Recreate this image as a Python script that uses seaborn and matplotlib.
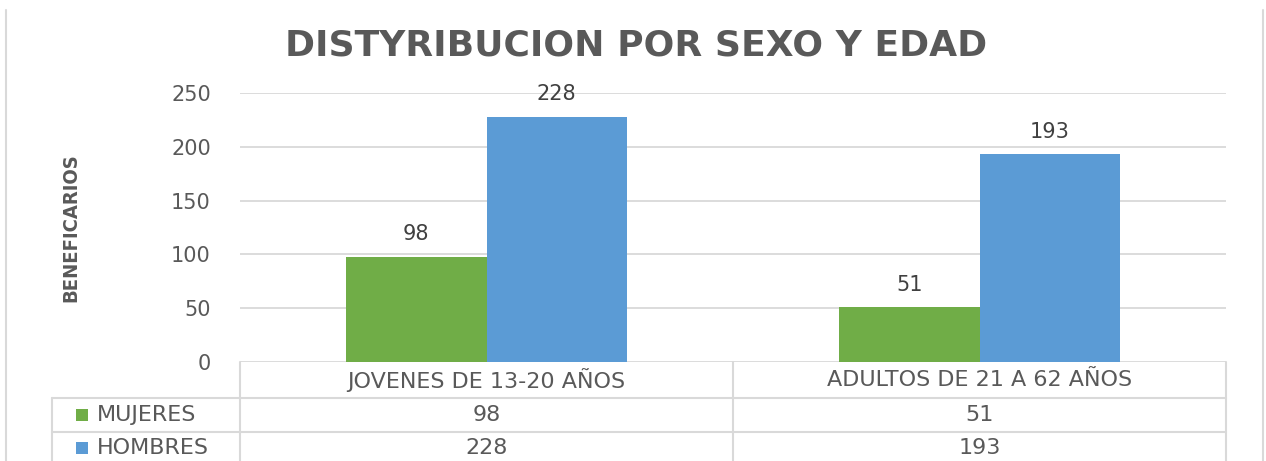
import matplotlib.pyplot as plt
import matplotlib.transforms as mtransforms
from matplotlib.lines import Line2D
from matplotlib.patches import Rectangle
import pandas as pd
import seaborn as sns

# datos
categorias = ['JOVENES DE 13-20 AÑOS', 'ADULTOS DE 21 A 62 AÑOS']
series = ['MUJERES', 'HOMBRES']
mujeres = [98, 51]
hombres = [228, 193]
colores = ['#70ad47', '#5b9bd5']
titulo = 'DISTYRIBUCION POR SEXO Y EDAD'
etiqueta_y = 'BENEFICARIOS'

df = pd.DataFrame({
    'grupo': categorias * 2,
    'sexo': [series[0]] * 2 + [series[1]] * 2,
    'valor': mujeres + hombres,
})

sns.set_theme(style='white')
plt.rcParams['font.family'] = ['DejaVu Sans']

GRIS = '#595959'
LINEA = '#d9d9d9'
W, H = 1266, 461
fig = plt.figure(figsize=(W / 100, H / 100), dpi=100)
ax = fig.add_axes([240 / W, 1 - 362 / H, (1226 - 240) / W, (362 - 93) / H])

sns.barplot(data=df, x='grupo', y='valor', hue='sexo', hue_order=series,
            palette=colores, width=0.57, gap=0, saturation=1, linewidth=0,
            legend=False, ax=ax)

ax.set_xlim(-0.5, 1.5)
ax.set_ylim(0, 250)
ax.set_yticks(range(0, 251, 50))
ax.yaxis.grid(True, color=LINEA, lw=1.3)
ax.set_axisbelow(True)
for s in ax.spines.values():
    s.set_visible(False)
ax.set_xticks([])
ax.set_xlabel('')
ax.set_ylabel('')
ax.tick_params(axis='y', length=0, pad=21, labelsize=15, labelcolor=GRIS)

for c in ax.containers:
    ax.bar_label(c, padding=9, fontsize=15, color='#404040')

# titulo y eje
fig.text(636 / W, 1 - 45 / H, titulo, ha='center', va='center',
         fontsize=26, fontweight='bold', color=GRIS)
fig.text(71 / W, 1 - 228 / H, etiqueta_y, rotation=90, ha='center', va='center',
         fontsize=14.5, fontweight='bold', fontstretch='condensed', color=GRIS,
         family=['Liberation Sans Narrow', 'DejaVu Sans'])

# tabla de datos
trans = mtransforms.blended_transform_factory(ax.transData, fig.transFigure)
fy = lambda p: 1 - p / H
for xv in [-0.5, 0.5, 1.5]:
    ax.add_line(Line2D([xv, xv], [fy(362), fy(470)], transform=trans,
                       color=LINEA, lw=1.5, clip_on=False))
for yp in [398, 432]:
    fig.add_artist(Line2D([52 / W, 1226 / W], [fy(yp), fy(yp)],
                          transform=fig.transFigure, color=LINEA, lw=1.5))
fig.add_artist(Line2D([52 / W, 52 / W], [fy(398), fy(470)],
                      transform=fig.transFigure, color=LINEA, lw=1.5))

for i, cat in enumerate(categorias):
    ax.text(i, fy(380), cat, transform=trans, ha='center', va='center',
            fontsize=16, color=GRIS)
filas = [mujeres, hombres]
for j, (nombre, vals) in enumerate(zip(series, filas)):
    yc = [415, 448][j]
    for i, v in enumerate(vals):
        ax.text(i, fy(yc), str(v), transform=trans, ha='center', va='center',
                fontsize=16, color=GRIS)
    fig.add_artist(Rectangle((76 / W, fy(yc + 6)), 12 / W, 12 / H,
                             transform=fig.transFigure, color=colores[j], lw=0))
    fig.text(97 / W, fy(yc), nombre, ha='left', va='center', fontsize=16, color=GRIS)

# borde del grafico
for xp in [6, 1263]:
    fig.add_artist(Line2D([xp / W, xp / W], [fy(10), 0], transform=fig.transFigure,
                          color=LINEA, lw=1.5))

fig.savefig('out.png', dpi=100)
